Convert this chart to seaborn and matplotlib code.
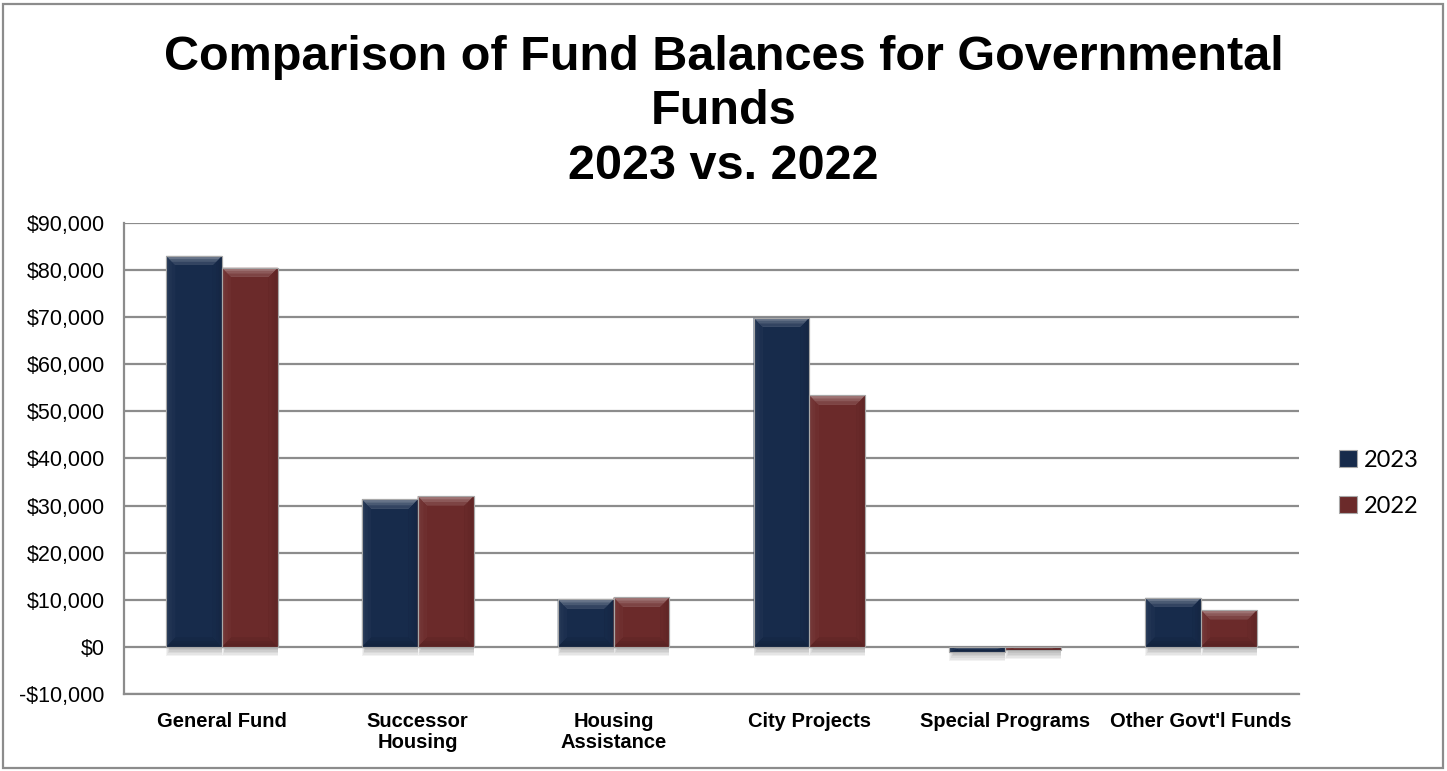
import matplotlib
matplotlib.use("Agg")
import matplotlib.pyplot as plt
from matplotlib.patches import Polygon, Rectangle
from matplotlib.ticker import FuncFormatter
from matplotlib.colors import to_rgb
import numpy as np
import pandas as pd
import seaborn as sns

# Fund balances (in thousands of dollars)
categories = ["General Fund", "Successor\nHousing", "Housing\nAssistance",
              "City Projects", "Special Programs", "Other Govt'l Funds"]
balances_2023 = [83000, 31300, 10100, 69900, -1000, 10400]
balances_2022 = [80500, 32000, 10500, 53400, -600, 7800]
years = ["2023", "2022"]
year_colors = {"2023": "#172B4B", "2022": "#6B2A2A"}
y_ticks = list(range(-10000, 90001, 10000))

df = pd.DataFrame({
    "Fund": categories * 2,
    "Year": [years[0]] * len(categories) + [years[1]] * len(categories),
    "Balance": balances_2023 + balances_2022,
})

sns.set_style("white")
plt.rcParams["font.family"] = ["Liberation Sans", "DejaVu Sans"]
plt.rcParams["text.color"] = "black"
plt.rcParams["axes.labelcolor"] = "black"

fig = plt.figure(figsize=(14.47, 7.71), dpi=100)
ax = fig.add_axes([0.0857, 0.0999, 0.8120, 0.6109])

sns.barplot(data=df, x="Fund", y="Balance", hue="Year", hue_order=years,
            palette=year_colors, width=0.57, saturation=1, ax=ax,
            edgecolor="#a8a8a8", linewidth=0.8, legend=False, zorder=3)

ax.set_xlim(-0.5, len(categories) - 0.5)
ax.set_ylim(y_ticks[0], y_ticks[-1])
ax.set_yticks(y_ticks)
ax.yaxis.set_major_formatter(FuncFormatter(
    lambda v, _: ("-$" if v < 0 else "$") + f"{abs(int(v)):,}"))
ax.set_xlabel("")
ax.set_ylabel("")

grid_color = "#8c8c8c"
ax.grid(axis="y", color=grid_color, linewidth=1.6, zorder=0)
ax.grid(axis="x", visible=False)
ax.set_axisbelow(True)
for side in ("top", "right"):
    ax.spines[side].set_visible(False)
for side in ("left", "bottom"):
    ax.spines[side].set_color(grid_color)
    ax.spines[side].set_linewidth(1.6)

ax.tick_params(axis="y", length=0, pad=14, labelsize=15.5, labelcolor="black")
ax.tick_params(axis="x", length=0, pad=13, labelsize=14.5, labelcolor="black")
for lbl in ax.get_xticklabels():
    lbl.set_fontweight("bold")
    lbl.set_linespacing(1.1)


def mix(c, other, t):
    c = np.array(to_rgb(c))
    o = np.array(to_rgb(other))
    return tuple(c * (1 - t) + o * t)


# Bevelled faces and soft drop shadows on each bar
px_x = 1.0 / (ax.transData.transform((1, 0))[0] - ax.transData.transform((0, 0))[0])
px_y = 1.0 / (ax.transData.transform((0, 1))[1] - ax.transData.transform((0, 0))[1])
bevel = 9
for bar in list(ax.patches):
    x0, w = bar.get_x(), bar.get_width()
    y_a, h = bar.get_y(), bar.get_height()
    lo, hi = min(y_a, y_a + h), max(y_a, y_a + h)
    x1 = x0 + w
    face = bar.get_facecolor()
    by_full = min(bevel * px_y, (hi - lo) / 2)

    # shadow fading out beneath the bar
    for k in range(6):
        depth = (k + 1) * 1.6
        ax.add_patch(Rectangle((x0 + (4 - k * 0.8) * px_x, lo - depth * px_y),
                               w - (4 - k * 0.8) * px_x, depth * px_y,
                               facecolor="black", edgecolor="none", alpha=0.05,
                               zorder=2))

    # graded bands from the rim inwards
    steps = [(0.0, 0.34, 0.06, 0.16), (0.35, 0.22, 0.04, 0.12), (0.65, 0.12, 0.02, 0.07)]
    for frac, top_t, side_t, bot_t in steps:
        ox = bevel * px_x * frac
        oy = by_full * frac
        bx = bevel * px_x
        by = by_full
        top = [(x0 + ox, hi - oy), (x1 - ox, hi - oy), (x1 - bx, hi - by), (x0 + bx, hi - by)]
        bottom = [(x0 + ox, lo + oy), (x1 - ox, lo + oy), (x1 - bx, lo + by), (x0 + bx, lo + by)]
        left = [(x0 + ox, lo + oy), (x0 + ox, hi - oy), (x0 + bx, hi - by), (x0 + bx, lo + by)]
        right = [(x1 - ox, lo + oy), (x1 - ox, hi - oy), (x1 - bx, hi - by), (x1 - bx, lo + by)]
        z = 3.5 + frac
        ax.add_patch(Polygon(left, closed=True, facecolor=mix(face, "white", side_t),
                             edgecolor="none", zorder=z))
        ax.add_patch(Polygon(right, closed=True, facecolor=mix(face, "black", side_t * 1.5),
                             edgecolor="none", zorder=z))
        ax.add_patch(Polygon(bottom, closed=True, facecolor=mix(face, "black", bot_t),
                             edgecolor="none", zorder=z))
        ax.add_patch(Polygon(top, closed=True, facecolor=mix(face, "white", top_t),
                             edgecolor="none", zorder=z + 0.05))
    ax.add_patch(Rectangle((x0, lo), w, hi - lo, fill=False,
                           edgecolor="#a8a8a8", linewidth=0.8, zorder=4.8))

# Legend
handles = [Rectangle((0, 0), 1, 1, facecolor=year_colors[y], edgecolor="#a8a8a8",
                     linewidth=0.8) for y in years]
fig.legend(handles, years, loc="center left", bbox_to_anchor=(0.911, 0.373),
           frameon=False, handlelength=0.75, handleheight=0.75,
           handletextpad=0.3, labelspacing=1.05,
           prop={"family": ["Lato", "DejaVu Sans"], "size": 17})

fig.text(0.5, 0.955, "Comparison of Fund Balances for Governmental\nFunds\n2023 vs. 2022",
         ha="center", va="top", fontsize=35, fontweight="bold", linespacing=1.27,
         color="black")

fig.patches.append(Rectangle((0.0021, 0.004), 0.9951, 0.9903, transform=fig.transFigure,
                             fill=False, edgecolor="#8c8c8c", linewidth=1.6))

fig.savefig("out.png", dpi=100)
